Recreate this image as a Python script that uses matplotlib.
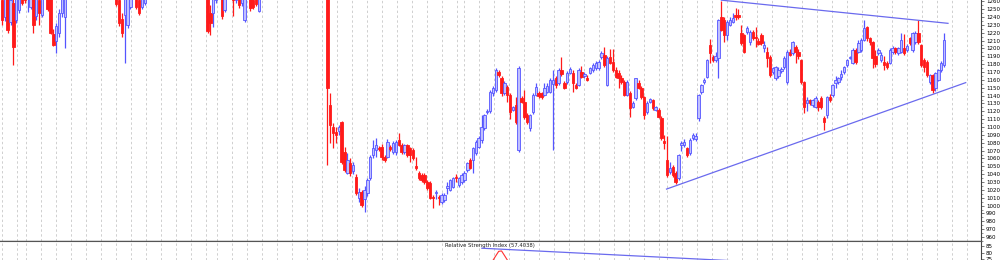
import numpy as np
import matplotlib
matplotlib.use('Agg')
import matplotlib.pyplot as plt

# daily OHLC (left part sits mostly above the visible range)
open_a = [1262, 1240, 1266, 1234, 1258, 1236, 1249, 1285, 1275, 1265, 1253, 1272, 1241, 1262, 1243, 1275, 1290, 1265, 1219, 1210, 1220, 1245, 1240]
high_a = [1270, 1275, 1272, 1268, 1265, 1270, 1280, 1290, 1282, 1290, 1288, 1276, 1270, 1268, 1280, 1295, 1295, 1270, 1225, 1232, 1250, 1280, 1290]
low_a = [1230, 1235, 1220, 1230, 1179, 1232, 1245, 1255, 1258, 1246, 1250, 1220, 1236, 1230, 1240, 1268, 1248, 1218, 1203, 1194, 1215, 1240, 1201]
close_a = [1236, 1268, 1223, 1262, 1202, 1264, 1276, 1258, 1262, 1284, 1280, 1230, 1265, 1245, 1275, 1290, 1250, 1220, 1205, 1228, 1245, 1275, 1285]

open_b = [1285, 1295, 1290, 1300, 1308, 1298, 1305, 1315, 1302, 1295, 1300, 1292, 1282, 1290, 1285, 1281, 1288]
high_b = [1300, 1310, 1305, 1315, 1318, 1312, 1320, 1325, 1310, 1308, 1312, 1300, 1295, 1300, 1295, 1294, 1296]
low_b = [1270, 1285, 1280, 1292, 1295, 1290, 1298, 1300, 1290, 1285, 1288, 1278, 1275, 1280, 1272, 1274, 1276]
close_b = [1295, 1290, 1300, 1308, 1298, 1305, 1315, 1302, 1295, 1300, 1292, 1282, 1290, 1285, 1281, 1288, 1280]

open_c = [1280, 1262, 1238, 1243, 1230, 1253, 1280, 1290, 1262, 1253, 1258]
high_c = [1288, 1268, 1245, 1275, 1275, 1285, 1295, 1295, 1268, 1280, 1290]
low_c = [1254, 1228, 1215, 1181, 1226, 1250, 1272, 1250, 1243, 1250, 1255]
close_c = [1256, 1232, 1220, 1270, 1268, 1280, 1290, 1253, 1245, 1276, 1285]

open_d = [1285, 1292, 1300, 1295, 1306, 1312, 1304, 1298, 1290, 1296, 1305, 1300, 1294, 1288, 1296, 1290, 1283, 1288, 1280, 1284, 1279]
high_d = [1298, 1305, 1312, 1310, 1318, 1322, 1315, 1308, 1302, 1310, 1316, 1310, 1304, 1300, 1306, 1298, 1292, 1296, 1290, 1292, 1290]
low_d = [1275, 1284, 1290, 1288, 1298, 1300, 1294, 1285, 1280, 1288, 1295, 1290, 1282, 1278, 1286, 1278, 1272, 1276, 1270, 1268, 1270]
close_d = [1292, 1300, 1295, 1306, 1312, 1304, 1298, 1290, 1296, 1305, 1300, 1294, 1288, 1296, 1290, 1283, 1288, 1280, 1284, 1279, 1275]

open_e = [1275, 1245, 1245, 1262, 1285, 1268, 1249, 1275, 1288, 1272, 1262, 1280, 1258, 1236, 1272, 1280, 1262, 1268, 1248]
high_e = [1282, 1255, 1280, 1290, 1292, 1272, 1280, 1292, 1294, 1278, 1285, 1286, 1282, 1278, 1290, 1286, 1268, 1272, 1280]
low_e = [1220, 1217, 1227, 1258, 1265, 1238, 1246, 1268, 1268, 1241, 1258, 1252, 1254, 1234, 1266, 1248, 1250, 1254, 1246]
close_e = [1222, 1232, 1275, 1285, 1270, 1241, 1275, 1288, 1272, 1262, 1280, 1255, 1278, 1272, 1286, 1251, 1253, 1256, 1275]

open_f = [1275, 1285, 1292, 1298, 1294, 1300, 1309, 1303, 1296, 1302, 1310, 1306, 1299, 1294, 1301, 1297, 1290, 1296, 1304, 1298, 1290, 1295, 1301, 1295]
high_f = [1290, 1298, 1305, 1310, 1304, 1314, 1320, 1312, 1306, 1316, 1322, 1316, 1308, 1305, 1312, 1306, 1300, 1308, 1314, 1306, 1300, 1306, 1310, 1298]
low_f = [1268, 1276, 1284, 1288, 1282, 1292, 1298, 1292, 1286, 1294, 1300, 1296, 1288, 1285, 1292, 1286, 1280, 1288, 1294, 1285, 1278, 1286, 1290, 1052]
close_f = [1285, 1292, 1298, 1294, 1300, 1309, 1303, 1296, 1302, 1310, 1306, 1299, 1294, 1301, 1297, 1290, 1296, 1304, 1298, 1290, 1295, 1301, 1295, 1150]

open_g = [1128, 1100, 1094, 1095, 1106, 1068, 1042, 1054, 1044, 1036, 1010, 1017, 1008, 1016, 1035, 1064, 1071, 1073, 1075, 1062, 1062, 1074, 1068, 1068, 1084, 1077, 1068, 1077, 1073, 1071]
high_g = [1143, 1105, 1100, 1102, 1108, 1075, 1067, 1060, 1056, 1040, 1022, 1020, 1025, 1035, 1064, 1084, 1086, 1076, 1078, 1065, 1085, 1077, 1082, 1084, 1092, 1080, 1079, 1079, 1075, 1073]
low_g = [1080, 1073, 1080, 1090, 1053, 1043, 1040, 1038, 1040, 1013, 1005, 998, 992, 1012, 1032, 1060, 1062, 1070, 1058, 1055, 1060, 1070, 1066, 1064, 1076, 1066, 1066, 1062, 1055, 1058]
close_g = [1103, 1092, 1090, 1100, 1056, 1045, 1058, 1042, 1052, 1016, 1017, 1001, 1020, 1033, 1062, 1073, 1077, 1072, 1062, 1058, 1081, 1072, 1080, 1081, 1077, 1068, 1077, 1064, 1064, 1061]

open_h = [1050, 1042, 1039, 1039, 1030, 1029, 1011, 1016, 1011, 1005, 1007, 1022, 1020, 1024, 1036, 1026, 1030, 1033, 1045, 1058, 1058, 1067, 1075, 1084]
high_h = [1062, 1044, 1041, 1041, 1032, 1031, 1013, 1020, 1014, 1016, 1016, 1030, 1034, 1037, 1040, 1037, 1041, 1044, 1056, 1060, 1075, 1083, 1088, 1115]
low_h = [1045, 1033, 1030, 1028, 1020, 1008, 997, 1008, 1001, 1002, 1005, 1015, 1018, 1022, 1030, 1024, 1028, 1030, 1043, 1046, 1042, 1065, 1073, 1080]
close_h = [1048, 1035, 1033, 1030, 1022, 1010, 1010, 1017, 1010, 1014, 1014, 1025, 1033, 1035, 1035, 1035, 1039, 1042, 1054, 1048, 1073, 1081, 1086, 1100]

open_i = [1099, 1119, 1121, 1143, 1147, 1170, 1162, 1143, 1151, 1141, 1122, 1128, 1071, 1137, 1132, 1115, 1099, 1119, 1141, 1143, 1143, 1141, 1145, 1145, 1155, 1162, 1156, 1172, 1156, 1157, 1169, 1169]
high_i = [1117, 1123, 1147, 1152, 1175, 1172, 1165, 1158, 1154, 1143, 1127, 1138, 1178, 1140, 1147, 1118, 1117, 1143, 1156, 1146, 1145, 1156, 1156, 1162, 1173, 1165, 1175, 1189, 1158, 1171, 1176, 1172]
low_i = [1096, 1117, 1118, 1140, 1145, 1164, 1140, 1141, 1132, 1110, 1120, 1104, 1068, 1130, 1110, 1104, 1095, 1117, 1139, 1137, 1136, 1139, 1143, 1143, 1071, 1150, 1154, 1165, 1148, 1155, 1167, 1144]
close_i = [1115, 1121, 1145, 1150, 1173, 1166, 1143, 1156, 1141, 1119, 1126, 1106, 1175, 1132, 1113, 1106, 1115, 1141, 1151, 1140, 1138, 1150, 1152, 1160, 1160, 1154, 1173, 1168, 1150, 1169, 1174, 1156]

open_j = [1154, 1154, 1170, 1165, 1163, 1169, 1173, 1175, 1175, 1189, 1192, 1154, 1189, 1183, 1173, 1169, 1163, 1157, 1141, 1143, 1126, 1137, 1156, 1150, 1138, 1119, 1132, 1134, 1122, 1122, 1112, 1082, 1058, 1043]
high_j = [1156, 1175, 1178, 1170, 1166, 1177, 1181, 1184, 1185, 1197, 1202, 1190, 1199, 1199, 1176, 1172, 1166, 1160, 1160, 1146, 1133, 1163, 1160, 1152, 1140, 1133, 1137, 1136, 1127, 1124, 1114, 1090, 1088, 1055]
low_j = [1148, 1152, 1162, 1162, 1158, 1167, 1170, 1173, 1173, 1187, 1177, 1152, 1180, 1170, 1162, 1150, 1155, 1139, 1139, 1113, 1124, 1135, 1148, 1136, 1110, 1116, 1130, 1122, 1120, 1111, 1084, 1072, 1036, 1040]
close_j = [1150, 1173, 1164, 1168, 1160, 1175, 1179, 1182, 1183, 1194, 1179, 1188, 1182, 1173, 1164, 1162, 1157, 1141, 1157, 1124, 1131, 1162, 1150, 1138, 1115, 1131, 1136, 1124, 1126, 1113, 1086, 1080, 1039, 1048]

open_k = [1049, 1042, 1035, 1077, 1077, 1073, 1067, 1086, 1085, 1112, 1145, 1157, 1164, 1204, 1189, 1185, 1188, 1240, 1236, 1217, 1230, 1234, 1243, 1242, 1220, 1217, 1221, 1208, 1221, 1215, 1210, 1217, 1200, 1196]
high_k = [1052, 1044, 1066, 1082, 1085, 1075, 1086, 1092, 1093, 1142, 1155, 1162, 1187, 1212, 1192, 1195, 1238, 1261, 1240, 1236, 1240, 1245, 1252, 1250, 1230, 1219, 1228, 1223, 1223, 1227, 1213, 1220, 1210, 1202]
low_k = [1037, 1028, 1032, 1070, 1075, 1062, 1065, 1084, 1082, 1108, 1142, 1155, 1162, 1181, 1183, 1183, 1163, 1222, 1208, 1211, 1228, 1232, 1236, 1238, 1204, 1194, 1218, 1205, 1211, 1202, 1204, 1205, 1195, 1176]
close_k = [1039, 1030, 1064, 1080, 1081, 1064, 1084, 1090, 1089, 1141, 1154, 1160, 1185, 1194, 1185, 1190, 1236, 1224, 1217, 1234, 1236, 1239, 1240, 1240, 1207, 1196, 1226, 1221, 1213, 1213, 1206, 1207, 1205, 1188]

open_l = [1189, 1170, 1162, 1165, 1171, 1176, 1157, 1196, 1194, 1202, 1196, 1185, 1157, 1130, 1134, 1128, 1126, 1132, 1137, 1112, 1115, 1138, 1141, 1156, 1157, 1164, 1170, 1179, 1188, 1182, 1198, 1196, 1198, 1211]
high_l = [1192, 1177, 1178, 1176, 1176, 1190, 1198, 1199, 1210, 1205, 1199, 1187, 1159, 1138, 1136, 1136, 1139, 1134, 1140, 1114, 1140, 1142, 1155, 1165, 1164, 1172, 1178, 1187, 1190, 1200, 1200, 1211, 1213, 1236]
low_l = [1164, 1168, 1160, 1162, 1169, 1174, 1155, 1190, 1192, 1181, 1186, 1155, 1118, 1120, 1128, 1126, 1124, 1120, 1123, 1096, 1112, 1132, 1138, 1150, 1155, 1160, 1168, 1177, 1186, 1180, 1180, 1194, 1196, 1209]
close_l = [1166, 1175, 1176, 1172, 1174, 1188, 1196, 1192, 1208, 1196, 1190, 1157, 1126, 1134, 1131, 1134, 1137, 1126, 1126, 1106, 1138, 1134, 1154, 1160, 1162, 1168, 1176, 1185, 1189, 1198, 1183, 1207, 1211, 1226]

open_m = [1227, 1213, 1208, 1190, 1194, 1185, 1183, 1182, 1182, 1195, 1200, 1194, 1196, 1200, 1198, 1213, 1198, 1208, 1220, 1204, 1185, 1183, 1157, 1166, 1150, 1160, 1172, 1179]
high_m = [1229, 1215, 1210, 1198, 1200, 1195, 1190, 1184, 1200, 1203, 1202, 1202, 1220, 1219, 1206, 1215, 1221, 1222, 1236, 1206, 1188, 1185, 1168, 1168, 1170, 1174, 1184, 1220]
low_m = [1210, 1205, 1175, 1176, 1192, 1183, 1172, 1174, 1180, 1193, 1193, 1192, 1194, 1192, 1196, 1205, 1196, 1206, 1206, 1177, 1170, 1164, 1155, 1143, 1146, 1158, 1170, 1176]
close_m = [1213, 1208, 1188, 1180, 1198, 1192, 1179, 1176, 1198, 1201, 1196, 1200, 1211, 1194, 1203, 1207, 1220, 1220, 1208, 1179, 1176, 1166, 1166, 1147, 1169, 1173, 1182, 1211]

# RSI (only the stretch that reaches into the visible band)
rsi_day = [171, 172, 173, 174, 175, 176, 177, 178]
rsi_val = [70.5, 74.0, 77.5, 80.9, 81.2, 77.8, 74.3, 70.8]
rsi_last = 57.4038

# trendlines: (day, value) end points
upper_line = ([252, 331.4], [1261.5, 1232])
lower_line = ([232.8, 337.6], [1021, 1156.5])
rsi_line = ([168.1, 260], [83.3, 73.2])

opens = np.array(open_a + open_b + open_c + open_d + open_e + open_f + open_g + open_h + open_i + open_j + open_k + open_l + open_m, float)
highs = np.array(high_a + high_b + high_c + high_d + high_e + high_f + high_g + high_h + high_i + high_j + high_k + high_l + high_m, float)
lows = np.array(low_a + low_b + low_c + low_d + low_e + low_f + low_g + low_h + low_i + low_j + low_k + low_l + low_m, float)
closes = np.array(close_a + close_b + close_c + close_d + close_e + close_f + close_g + close_h + close_i + close_j + close_k + close_l + close_m, float)
assert len(opens) == len(highs) == len(lows) == len(closes)

n = len(opens)
idx = np.arange(n)
up = closes >= opens

# pixel layout: first bar at px 2, last at px 944, price axis at px 981
px_per_bar = (944 - 2) / (n - 1)
x_left = -2 / px_per_bar
x_right = (981 - 2) / px_per_bar

fig = plt.figure(figsize=(10, 2.6), dpi=100)
ax = fig.add_axes([0, 19 / 260, 0.981, 241 / 260])
rax = fig.add_axes([0, 0, 0.981, 19 / 260])

# weekly grid (pixel positions)
grid_px = [1.7, 16.7] + [25.7 + 15 * k for k in range(13)] + [217.3 + 15 * k for k in range(17)] \
    + [464.3 + 15 * k for k in range(14)] + [667.3 + 15 * k for k in range(21)]
grid_x = [(p - 2) / px_per_bar for p in grid_px]
for a in (ax, rax):
    for gx in grid_x:
        a.axvline(gx, color='#cfcfcf', lw=0.7, ls=(0, (2.5, 2.5)), zorder=0)

blue_edge = '#5555ff'
blue_face = '#bfbfff'
red = '#ff1a1a'

wick_cols = np.where(up, blue_edge, red)
ax.vlines(idx, lows, highs, colors=wick_cols, lw=0.9, zorder=2)
body_h = np.maximum(np.abs(closes - opens), 0.9)
ax.bar(idx, body_h, bottom=np.minimum(opens, closes), width=0.85,
       color=np.where(up, blue_face, red), edgecolor=np.where(up, blue_edge, red),
       linewidth=0.6, zorder=3)

ax.plot(*upper_line, color='#6a6aee', lw=0.9, zorder=4)
ax.plot(*lower_line, color='#6a6aee', lw=0.9, zorder=4)

ax.set_xlim(x_left, x_right)
ax.set_ylim(954.9, 1261.7)
ax.set_xticks([])
ax.yaxis.tick_right()
ax.set_yticks(np.arange(960, 1261, 10))
ax.set_yticks(np.arange(955, 1261, 5), minor=True)
ax.tick_params(axis='y', which='major', length=2.5, width=0.5, labelsize=4, pad=1, color='#444444')
ax.tick_params(axis='y', which='minor', length=1.2, width=0.4, color='#444444')
for s in ('top', 'left'):
    ax.spines[s].set_visible(False)
ax.spines['right'].set_color('#444444')
ax.spines['right'].set_linewidth(0.8)
ax.spines['bottom'].set_color('#555555')
ax.spines['bottom'].set_linewidth(1.0)

# RSI panel
rax.plot(rsi_day, rsi_val, color='#ff3030', lw=0.8, zorder=3)
rax.plot(*rsi_line, color='#6a6aee', lw=0.9, zorder=4)
rax.set_xlim(x_left, x_right)
rax.set_ylim(74.23, 88.85)
rax.set_xticks([])
rax.yaxis.tick_right()
rax.set_yticks([75, 80, 85])
rax.tick_params(axis='y', length=2.5, width=0.5, labelsize=4, pad=1, color='#444444')
for s in ('left', 'bottom'):
    rax.spines[s].set_visible(False)
rax.spines['top'].set_color('#555555')
rax.spines['right'].set_color('#444444')
rax.spines['right'].set_linewidth(0.8)
rax.text(490 / 981, 0.78, 'Relative Strength Index ({:.4f})'.format(rsi_last),
         transform=rax.transAxes, fontsize=3.8, ha='center', va='center', color='#222222')

fig.savefig('out.png', dpi=100)
